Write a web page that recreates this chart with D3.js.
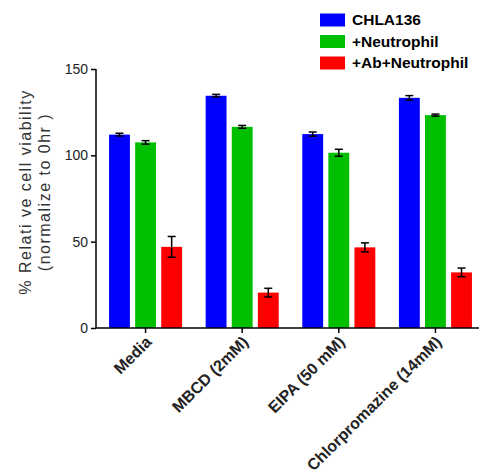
<!DOCTYPE html>
<html>
<head>
<meta charset="utf-8">
<script src="https://cdn.jsdelivr.net/npm/d3@7"></script>
<style>
  html, body { margin: 0; padding: 0; background: #fff; }
  svg { display: block; font-family: "Liberation Sans", Arial, sans-serif; }
</style>
</head>
<body>
<svg id="chart" width="479" height="475"></svg>
<script>
// Treatment groups along the x axis
const categories = ["Media", "MBCD (2mM)", "EIPA (50 mM)", "Chlorpromazine (14mM)"];
// Series shown in each group
const seriesNames = ["CHLA136", "+Neutrophil", "+Ab+Neutrophil"];
const seriesColors = ["#0000ff", "#00bf00", "#ff0000"];
// Mean relative viability (%) per series, one value per treatment
const chla136 = [112, 134.5, 112.3, 133.3];
const neutrophil = [107.5, 116.5, 101.5, 123.3];
const abNeutrophil = [47, 20.5, 46.7, 32.2];
// Error (SEM) per series
const chla136Err = [0.8, 0.8, 1.2, 1.3];
const neutrophilErr = [1.0, 0.8, 2.0, 0.6];
const abNeutrophilErr = [6, 2.5, 2.6, 2.5];
// Y axis ticks
const yTicks = [0, 50, 100, 150];

const values = [chla136, neutrophil, abNeutrophil];
const errors = [chla136Err, neutrophilErr, abNeutrophilErr];

const svg = d3.select("#chart");

const x0 = d3.scaleBand().domain(categories).range([96, 485]).paddingInner(0.244).paddingOuter(0.135);
const x1 = d3.scaleBand().domain(seriesNames).range([0, x0.bandwidth()]).paddingInner(0.2);
const y = d3.scaleLinear().domain([0, 150]).range([328, 69]);

// Bars
const groups = svg.append("g").selectAll("g")
  .data(categories)
  .join("g")
  .attr("transform", d => `translate(${x0(d)},0)`);

seriesNames.forEach((s, si) => {
  groups.append("rect")
    .attr("x", x1(s))
    .attr("width", x1.bandwidth())
    .attr("y", (d, i) => y(values[si][i]))
    .attr("height", (d, i) => y(0) - y(values[si][i]))
    .attr("fill", seriesColors[si]);

  // error bars
  const eb = groups.append("g").attr("stroke", "#000").attr("stroke-width", 1.5);
  const cx = x1(s) + x1.bandwidth() / 2;
  eb.append("line")
    .attr("x1", cx).attr("x2", cx)
    .attr("y1", (d, i) => y(values[si][i] + errors[si][i]))
    .attr("y2", (d, i) => y(values[si][i] - errors[si][i]));
  [1, -1].forEach(sign => {
    eb.append("line")
      .attr("x1", cx - 4).attr("x2", cx + 4)
      .attr("y1", (d, i) => y(values[si][i] + sign * errors[si][i]))
      .attr("y2", (d, i) => y(values[si][i] + sign * errors[si][i]));
  });
});

// Y axis
const yAxis = svg.append("g")
  .attr("transform", "translate(96,0)")
  .call(d3.axisLeft(y).tickValues(yTicks).tickSize(5).tickPadding(3));
yAxis.select(".domain").attr("stroke", "#000").attr("stroke-width", 1.5).attr("d", `M-0,${y(150)}V${y(0)}`);
yAxis.selectAll(".tick line").attr("stroke", "#000").attr("stroke-width", 1.5);
yAxis.selectAll(".tick text").attr("font-size", 14).attr("fill", "#222").attr("font-family", "Liberation Sans, Arial, sans-serif");

// X axis
const xAxis = svg.append("g")
  .attr("transform", `translate(0,${y(0)})`)
  .call(d3.axisBottom(x0).tickSize(5).tickSizeOuter(0));
xAxis.select(".domain").attr("stroke", "#000").attr("stroke-width", 1.5).attr("d", "M96,0H479");
xAxis.selectAll(".tick line").attr("stroke", "#000").attr("stroke-width", 1.5);
xAxis.selectAll(".tick text")
  .attr("font-size", 16)
  .attr("font-weight", "bold")
  .attr("fill", "#222")
  .attr("font-family", "Liberation Sans, Arial, sans-serif")
  .attr("text-anchor", "end")
  .attr("dy", null)
  .attr("y", null)
  .attr("transform", "translate(7,15) rotate(-45)");

// Y axis title
const title = svg.append("text")
  .attr("transform", "translate(31,192) rotate(-90)")
  .attr("text-anchor", "middle")
  .attr("font-size", 16)
  .attr("fill", "#333")
  .attr("letter-spacing", 1.5);
title.append("tspan").attr("x", 0).attr("dy", 0).text("% Relati ve cell viability");
title.append("tspan").attr("x", 0).attr("dy", 19).text("(normalize to 0hr )");

// Legend
const legend = svg.append("g").selectAll("g")
  .data(seriesNames)
  .join("g")
  .attr("transform", (d, i) => `translate(320,${20 + i * 21.5})`);
legend.append("rect")
  .attr("x", 0).attr("y", -6.5)
  .attr("width", 25).attr("height", 13)
  .attr("fill", (d, i) => seriesColors[i]);
legend.append("text")
  .attr("x", 32).attr("y", 5)
  .attr("font-size", 15.5)
  .attr("font-weight", "bold")
  .attr("fill", "#000")
  .text(d => d);
</script>
</body>
</html>
